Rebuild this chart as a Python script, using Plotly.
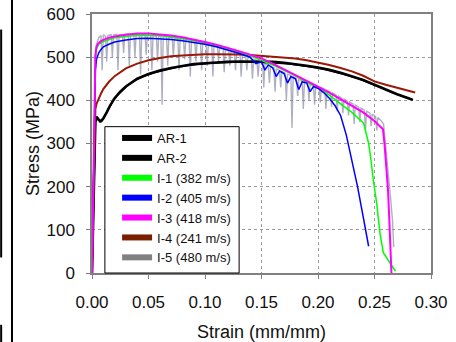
import plotly.graph_objects as go

# ---------------- data ----------------
ar1_strain = [0, 0.001, 0.002, 0.003, 0.004, 0.006, 0.008, 0.010, 0.013, 0.016, 0.020, 0.025,
              0.030, 0.035, 0.040, 0.050, 0.060, 0.070, 0.080, 0.090, 0.100, 0.110, 0.120,
              0.130, 0.140, 0.150, 0.160, 0.170, 0.180, 0.190, 0.200, 0.210, 0.220, 0.230,
              0.240, 0.250, 0.260, 0.270, 0.280, 0.284]
ar1_stress = [0, 150, 300, 355, 362, 355, 352, 358, 372, 388, 405, 420, 432, 442, 450, 461,
              469, 475, 480, 484, 486, 488, 489, 490, 490, 490, 489, 487, 484, 480, 476, 471,
              464, 456, 447, 436, 425, 414, 405, 401]

ar2_strain = [0, 0.001, 0.002, 0.003, 0.005, 0.007, 0.009, 0.011, 0.014, 0.018, 0.022, 0.027,
              0.032, 0.038, 0.045, 0.055, 0.065, 0.075, 0.085, 0.095, 0.105, 0.115, 0.125,
              0.135, 0.145, 0.155, 0.165, 0.175, 0.185, 0.195, 0.205, 0.215, 0.225, 0.235,
              0.245, 0.255, 0.265, 0.275, 0.283]
ar2_stress = [0, 140, 290, 350, 358, 350, 353, 362, 378, 396, 410, 424, 436, 446, 455, 464,
              471, 477, 481, 484, 486, 488, 489, 489, 489, 488, 486, 484, 481, 477, 472, 466,
              459, 451, 441, 430, 419, 409, 402]

i1_strain = [0, 0.001, 0.002, 0.003, 0.004, 0.006, 0.010, 0.020, 0.040, 0.060, 0.080, 0.100,
             0.120, 0.140, 0.160, 0.180, 0.200, 0.210, 0.220, 0.230, 0.2404, 0.2425, 0.2448,
             0.2470, 0.2489, 0.2520, 0.2548, 0.2578, 0.2630, 0.2686]
i1_stress = [0, 180, 400, 500, 520, 530, 536, 545, 551, 550, 543, 533, 520, 503, 482, 457,
             428, 412, 392, 372, 347, 325, 300, 260, 216, 160, 93, 47, 25, 4]

i2_strain = [0, 0.001, 0.002, 0.003, 0.004, 0.006, 0.008, 0.010, 0.015, 0.020, 0.030, 0.040,
             0.050, 0.060, 0.070, 0.080, 0.090, 0.100, 0.110, 0.120, 0.130, 0.140, 0.145,
             0.150, 0.153, 0.156, 0.160, 0.163, 0.166, 0.170, 0.173, 0.176, 0.180, 0.183,
             0.186, 0.190, 0.193, 0.196, 0.200, 0.205, 0.210, 0.215, 0.220, 0.225, 0.230,
             0.235, 0.240, 0.2448]
i2_stress = [0, 150, 380, 470, 495, 510, 518, 524, 530, 535, 540, 543, 544, 543, 541, 538,
             534, 530, 524, 517, 509, 500, 485, 490, 470, 482, 475, 455, 468, 462, 440, 455,
             450, 425, 443, 440, 420, 432, 428, 418, 405, 388, 365, 320, 262, 200, 130, 62]

i3_strain = [0, 0.001, 0.002, 0.003, 0.004, 0.006, 0.008, 0.010, 0.015, 0.020, 0.030, 0.040,
             0.050, 0.060, 0.070, 0.080, 0.090, 0.100, 0.110, 0.120, 0.130, 0.140, 0.150,
             0.160, 0.170, 0.180, 0.190, 0.200, 0.210, 0.220, 0.230, 0.240, 0.250, 0.2575,
             0.259, 0.2605, 0.262, 0.263, 0.2645, 0.265]
i3_stress = [0, 200, 420, 505, 525, 533, 537, 540, 545, 548, 552, 555, 555, 553, 550, 546,
             541, 535, 529, 522, 514, 506, 497, 485, 472, 459, 446, 432, 418, 403, 388, 372,
             352, 333, 295, 245, 190, 130, 40, 0]

i4_strain = [0, 0.001, 0.002, 0.003, 0.004, 0.006, 0.008, 0.010, 0.015, 0.020, 0.025, 0.030,
             0.040, 0.050, 0.060, 0.070, 0.080, 0.090, 0.100, 0.110, 0.120, 0.130, 0.140,
             0.150, 0.160, 0.170, 0.180, 0.190, 0.200, 0.210, 0.220, 0.230, 0.240, 0.250,
             0.260, 0.270, 0.280, 0.286]
i4_stress = [0, 150, 320, 380, 392, 405, 416, 426, 443, 456, 466, 474, 485, 493, 498, 502,
             504, 506, 507, 507, 507, 506, 505, 503, 501, 499, 497, 493, 488, 482, 475, 467,
             457, 444, 436, 429, 422, 418]

i5_strain = [0.000, 0.002, 0.003, 0.004, 0.006,
             0.008, 0.009, 0.010, 0.012, 0.013, 0.014, 0.017, 0.018, 0.019, 0.022, 0.023, 0.024,
             0.027, 0.028, 0.029, 0.032, 0.033, 0.034, 0.037, 0.038, 0.039, 0.042, 0.043, 0.044,
             0.047, 0.048, 0.049, 0.052, 0.053, 0.054, 0.057, 0.058, 0.059, 0.061, 0.062, 0.063,
             0.066, 0.067, 0.068, 0.071, 0.072, 0.073, 0.076, 0.077, 0.078, 0.081, 0.082, 0.083,
             0.086, 0.087, 0.088, 0.091, 0.092, 0.093, 0.096, 0.097, 0.098, 0.101, 0.102, 0.103,
             0.106, 0.107, 0.108, 0.111, 0.112, 0.113, 0.116, 0.117, 0.118, 0.121, 0.122, 0.123,
             0.126, 0.127, 0.128, 0.131, 0.132, 0.133, 0.136, 0.137, 0.138, 0.141, 0.142, 0.143,
             0.146, 0.147, 0.148, 0.151, 0.152, 0.153, 0.156, 0.157, 0.158, 0.161, 0.162, 0.163,
             0.166, 0.167, 0.168, 0.171, 0.172, 0.173, 0.176, 0.177, 0.178, 0.181, 0.182, 0.183,
             0.186, 0.187, 0.188, 0.191, 0.192, 0.193, 0.196, 0.197, 0.198, 0.201, 0.202, 0.203,
             0.206, 0.207, 0.208, 0.211, 0.212, 0.213, 0.216, 0.217, 0.218, 0.221, 0.222, 0.223,
             0.226, 0.227, 0.228, 0.231, 0.232, 0.233, 0.236, 0.237, 0.238, 0.241, 0.242, 0.243,
             0.246, 0.247, 0.248, 0.251, 0.252, 0.253, 0.256, 0.258, 0.260, 0.262, 0.264, 0.266,
             0.267]
i5_stress = [0, 300, 480, 530, 545,
             550, 470, 552, 548, 490, 550, 552, 500, 551, 553, 470, 552,
             552, 510, 553, 554, 480, 553, 553, 500, 552, 553, 460, 552,
             552, 505, 551, 550, 470, 550, 549, 490, 549, 548, 390, 548,
             547, 480, 546, 545, 500, 545, 544, 470, 543, 542, 495, 541,
             540, 455, 539, 538, 490, 537, 535, 470, 534, 532, 480, 531,
             528, 455, 527, 524, 490, 523, 520, 465, 519, 515, 480, 514,
             511, 470, 510, 506, 455, 505, 502, 470, 500, 497, 450, 495,
             492, 455, 490, 487, 430, 485, 481, 440, 479, 475, 420, 473,
             469, 430, 467, 463, 400, 461, 457, 336, 455, 451, 410, 449,
             445, 380, 443, 440, 400, 438, 436, 390, 434, 431, 395, 429,
             425, 380, 423, 419, 385, 417, 412, 375, 410, 405, 370, 403,
             398, 365, 396, 391, 345, 389, 384, 350, 382, 377, 330, 375,
             370, 340, 368, 362, 330, 360, 352, 345, 290, 240, 180, 120,
             60]

legend_names = ["AR-1", "AR-2", "I-1 (382 m/s)", "I-2 (405 m/s)", "I-3 (418 m/s)",
                "I-4 (241 m/s)", "I-5 (480 m/s)"]
legend_colors = ["#000000", "#000000", "#00ff00", "#0000ff", "#ff00ff", "#7a1e00", "#808080"]

x_ticks = [0.00, 0.05, 0.10, 0.15, 0.20, 0.25, 0.30]
x_tick_labels = ["0.00", "0.05", "0.10", "0.15", "0.20", "0.25", "0.30"]
y_ticks = [0, 100, 200, 300, 400, 500, 600]

# ---------------- figure ----------------
fig = go.Figure()

curves = [
    (i5_strain, i5_stress, "rgba(140,142,168,0.7)", 1.4),
    (ar1_strain, ar1_stress, "#000000", 2.6),
    (ar2_strain, ar2_stress, "#000000", 1.6),
    (i4_strain, i4_stress, "#9a1808", 2.0),
    (i1_strain, i1_stress, "#00ff00", 1.5),
    (i2_strain, i2_stress, "#0000ff", 1.5),
    (i3_strain, i3_stress, "#ff00ff", 2.0),
]
for xs, ys, col, w in curves:
    fig.add_trace(go.Scatter(x=xs, y=ys, mode="lines", line=dict(color=col, width=w),
                             showlegend=False, hoverinfo="skip"))

for name, col in zip(legend_names, legend_colors):
    fig.add_trace(go.Scatter(x=[None], y=[None], mode="lines", name=name,
                             line=dict(color=col, width=6)))

font_family = "Arial, Liberation Sans, sans-serif"

fig.update_layout(
    width=456, height=342,
    margin=dict(l=92, r=25, t=14, b=69),
    paper_bgcolor="white", plot_bgcolor="white",
    font=dict(family=font_family, color="#111111"),
    showlegend=True,
    legend=dict(
        x=0.074, y=0.0, xanchor="left", yanchor="bottom",
        bgcolor="rgba(0,0,0,0)", borderwidth=0,
        font=dict(size=13, color="#111111", family=font_family),
        tracegroupgap=0, itemwidth=30,
    ),
    xaxis=dict(
        range=[0, 0.30], tickvals=x_ticks, ticktext=x_tick_labels,
        showgrid=True, gridcolor="#9a9a9a", griddash="dot", gridwidth=1,
        showline=True, linecolor="#808080", linewidth=1.5, mirror=True,
        ticks="outside", ticklen=4, tickcolor="#808080",
        tickfont=dict(size=17), ticklabelstandoff=9, ticklabeloverflow="allow",
        title=dict(text="Strain (mm/mm)", font=dict(size=18), standoff=15),
        zeroline=False, automargin=False,
    ),
    yaxis=dict(
        range=[0, 600], tickvals=y_ticks,
        showgrid=True, gridcolor="#9a9a9a", griddash="dot", gridwidth=1,
        showline=True, linecolor="#808080", linewidth=1.5, mirror=True,
        ticks="outside", ticklen=4, tickcolor="#808080",
        tickfont=dict(size=17), ticklabelstandoff=8, ticklabeloverflow="allow",
        title=dict(text="Stress (MPa)", font=dict(size=18), standoff=2),
        zeroline=False, automargin=False,
    ),
)

# legend frame (white box with black border, sitting on the x axis)
fig.add_shape(type="rect", xref="paper", yref="paper", x0=0.038, x1=0.434, y0=0.0, y1=0.565,
              fillcolor="white", line=dict(color="black", width=1), layer="above")

# cropped-edge lines visible at the left of the reference (pixels x=12 and x=1)
fig.add_shape(type="line", xref="paper", yref="paper", x0=-0.236, x1=-0.236, y0=-0.3, y1=1.1,
              line=dict(color="black", width=2))
fig.add_shape(type="line", xref="paper", yref="paper", x0=-0.268, x1=-0.268, y0=0.06, y1=0.94,
              line=dict(color="black", width=2))
fig.add_shape(type="line", xref="paper", yref="paper", x0=-0.268, x1=-0.268, y0=-0.27, y1=-0.2,
              line=dict(color="black", width=2))

fig.write_html("out.html", config={"displayModeBar": False},
               post_script="document.body.style.margin='0';")
